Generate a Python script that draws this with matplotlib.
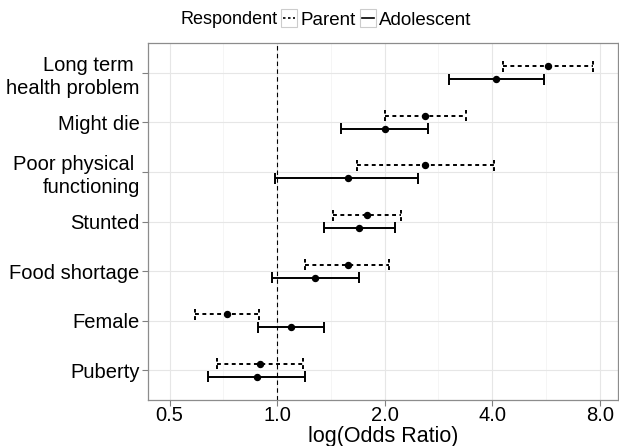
import numpy as np
import matplotlib
matplotlib.use('Agg')
import matplotlib.pyplot as plt
from matplotlib.legend_handler import HandlerBase
from matplotlib.patches import Rectangle
from matplotlib.lines import Line2D

plt.rcParams['font.family'] = ['Liberation Sans', 'DejaVu Sans']

# categories, bottom to top
labels = ['Puberty', 'Female', 'Food shortage', 'Stunted',
          'Poor physical \nfunctioning', 'Might die', 'Long term \nhealth problem']

# Parent estimates (odds ratio and 95% CI)
par_or = [0.898, 0.724, 1.58, 1.78, 2.60, 2.60, 5.72]
par_lo = [0.679, 0.590, 1.20, 1.435, 1.67, 2.01, 4.28]
par_hi = [1.183, 0.889, 2.06, 2.22, 4.04, 3.38, 7.67]

# Adolescent estimates
ado_or = [0.877, 1.092, 1.28, 1.70, 1.58, 2.00, 4.10]
ado_lo = [0.640, 0.882, 0.967, 1.35, 0.987, 1.505, 3.02]
ado_hi = [1.193, 1.357, 1.70, 2.14, 2.48, 2.65, 5.57]

xticks = [0.5, 1.0, 2.0, 4.0, 8.0]

fig = plt.figure(figsize=(6.19, 4.46), dpi=100)
ax = fig.add_axes([148/619, 1 - 400/446, 470/619, 357/446])

y = np.arange(1, len(labels) + 1)
off = 0.13
cap = 0.11


def draw(vals, lo, hi, ypos, ls):
    kw = dict(color='black', lw=1.4, linestyle=ls)
    if ls == '--':
        kw['linestyle'] = (0, (2, 1.8))
    ax.hlines(ypos, lo, hi, **kw)
    ax.vlines(lo, ypos - cap, ypos + cap, **kw)
    ax.vlines(hi, ypos - cap, ypos + cap, **kw)
    ax.plot(vals, ypos, 'o', color='black', ms=4.3, zorder=5)


draw(par_or, par_lo, par_hi, y + off, '--')
draw(ado_or, ado_lo, ado_hi, y - off, '-')

ax.axvline(1.0, color='black', lw=0.8, linestyle=(0, (4, 3)), zorder=1)

ax.set_xscale('log')
ax.set_xlim(0.435, 9.0)
ax.set_ylim(0.4, 7.6)
ax.set_xticks(xticks)
ax.set_xticklabels(['%.1f' % v for v in xticks])
ax.set_xticks([0.5 * 2 ** 0.5 * 2 ** i for i in range(4)], minor=True)
ax.set_yticks(y)
ax.set_yticklabels(labels, linespacing=1.3)
ax.tick_params(axis='both', which='major', labelsize=14.5, color='0.5',
               length=4, width=0.8, labelcolor='black', pad=2)
ax.tick_params(axis='x', which='major', pad=0.5)
ax.tick_params(axis='x', which='minor', length=0, labelbottom=False)

ax.grid(True, which='major', color='0.9', lw=0.8)
ax.grid(True, which='minor', axis='x', color='0.95', lw=0.5)
ax.set_axisbelow(True)
for s in ax.spines.values():
    s.set_color('0.55')
    s.set_linewidth(0.9)

# x axis title placed at the very bottom like the original
fig.text(383/619, 1 - 442/446, 'log(Odds Ratio)', fontsize=15.5,
         ha='center', va='baseline')


class BoxLine(HandlerBase):
    def create_artists(self, legend, orig_handle, xdescent, ydescent,
                       width, height, fontsize, trans):
        r = Rectangle((-xdescent, -ydescent - 2), width, height + 4,
                      fc='white', ec='0.8', lw=0.8, transform=trans)
        ln = Line2D([-xdescent + 1.5, -xdescent + width - 1.5],
                    [height / 2 - ydescent] * 2, color='black',
                    lw=1.2, linestyle=orig_handle.get_linestyle(),
                    transform=trans)
        if orig_handle.get_linestyle() == '--':
            ln.set_dashes((1.5, 1.5))
        return [r, ln]


h_par = Line2D([], [], linestyle='--')
h_ado = Line2D([], [], linestyle='-')

fig.text(278/619, 1 - 20/446, 'Respondent', fontsize=13, ha='right', va='center')
fig.legend([h_par, h_ado], ['Parent', 'Adolescent'],
           handler_map={Line2D: BoxLine()},
           loc='center left', bbox_to_anchor=(281/619, 1 - 20/446),
           ncol=2, frameon=False, fontsize=13.5, handlelength=0.85,
           handleheight=0.7, handletextpad=0.2, columnspacing=0.2,
           borderpad=0, borderaxespad=0)

fig.savefig('out.png', dpi=100)
